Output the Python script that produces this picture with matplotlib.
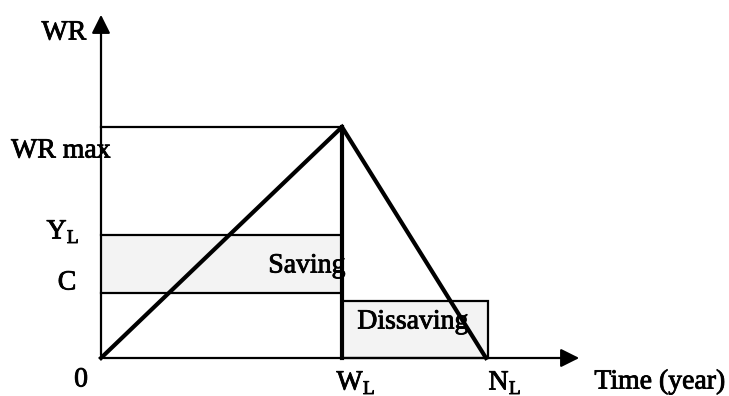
import matplotlib.pyplot as plt
import matplotlib.patheffects as pe
from matplotlib.patches import Rectangle

plt.rcParams['font.family'] = ['Liberation Serif', 'DejaVu Serif']
plt.rcParams['mathtext.fontset'] = 'custom'
plt.rcParams['mathtext.rm'] = 'Liberation Serif'

# time points on the x axis: 0, W_L (end of working life), N_L (end of life)
time_labels = ['0', r'W$_\mathregular{L}$', r'N$_\mathregular{L}$']
time_points = [0, 241, 385]
x_end = 481

# levels on the y axis
level_labels = ['C', r'Y$_\mathregular{L}$', 'WR max']
level_values = [65, 123, 231]
dissaving_level = 57
dissaving_end = 387
y_end = 346

W_L = time_points[1]
N_L = time_points[2]
C, Y_L, WR_max = level_values

fig = plt.figure(figsize=(7.29, 3.96), dpi=100)
ax = fig.add_axes([0, 0, 1, 1])
ax.set_xlim(-101, 628)
ax.set_ylim(-38, 358)
ax.axis('off')

fill = '#f3f3f3'
# saving band
ax.add_patch(Rectangle((0, C), W_L, Y_L - C, facecolor=fill, edgecolor='none', zorder=1))
# dissaving band
ax.add_patch(Rectangle((W_L, 0), dissaving_end - W_L, dissaving_level,
                       facecolor=fill, edgecolor='black', lw=1.6, zorder=2))

# horizontal guide lines
ax.plot([0, W_L], [WR_max, WR_max], color='black', lw=1.6, zorder=3)
ax.plot([0, W_L], [Y_L, Y_L], color='black', lw=1.6, zorder=3)
ax.plot([0, W_L], [C, C], color='black', lw=1.6, zorder=3)

# WR path: accumulate then run down
ax.plot([0, W_L, N_L], [0, WR_max, 0], color='black', lw=3, zorder=4, solid_joinstyle='miter')
ax.plot([W_L, W_L], [0, WR_max], color='black', lw=3, zorder=4)

# axes with arrows
ax.annotate('', xy=(0, y_end), xytext=(0, 0),
            arrowprops=dict(arrowstyle='-|>', mutation_scale=28, lw=1.6, color='black'))
ax.annotate('', xy=(x_end, 0), xytext=(0, 0),
            arrowprops=dict(arrowstyle='-|>', mutation_scale=28, lw=1.6, color='black'))

fs = 20
heavy = [pe.withStroke(linewidth=0.6, foreground='black')]
def label(x, y, s, **kw):
    ax.text(x, y, s, fontsize=fs, ha='center', va='center', path_effects=heavy, **kw)

label(-37, 325, 'WR')
label(-40, 207, level_labels[2])
label(-38, 126, level_labels[1])
label(-34, 75, level_labels[0])

label(-20, -22, time_labels[0])
label(W_L + 14, -25, time_labels[1])
label(N_L + 19, -25, time_labels[2])
label(559, -24, 'Time (year)')

label(206, 92, 'Saving', zorder=5)
label(312, 36, 'Dissaving', zorder=5)

fig.savefig('out.png', dpi=100)
